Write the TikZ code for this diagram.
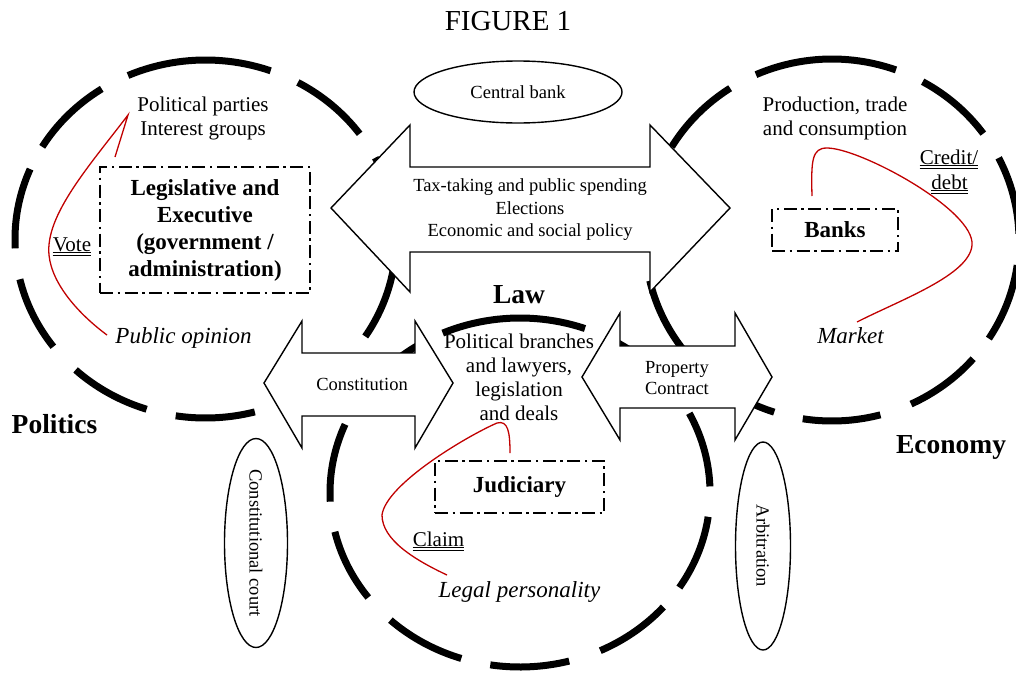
\documentclass[tikz,border=0pt]{standalone}
\usepackage{fontspec}
\setmainfont{Liberation Serif}
\usetikzlibrary{shapes.geometric,calc}
\definecolor{redline}{RGB}{192,0,0}
\newcommand\fsA{\fontsize{18.5}{22.5}\selectfont}
\newcommand\fsB{\fontsize{21}{24}\selectfont}
\newcommand\fsC{\fontsize{23}{27}\selectfont}
\newcommand\fsD{\fontsize{27.5}{30}\selectfont}
\tikzset{
  ring/.style={line width=7, line cap=butt},
  arrowshape/.style={draw, fill=white, line width=1.4, line join=miter},
  dbox/.style={draw, fill=white, line width=2.6, dash pattern=on 13 off 4.5 on 2.5 off 4.5, inner sep=0, align=center, font=\bfseries\fsC},
  oval/.style={draw, ellipse, fill=white, line width=1.4, inner sep=0, font=\fsA},
  loopline/.style={draw=redline, line width=1.3},
  ul/.style={line width=0.9},
  txt/.style={inner sep=0, align=center},
}
\begin{document}
\begin{tikzpicture}[x=1pt,y=-1pt]
\useasboundingbox (0,0) rectangle (1016,675);
% dashed rings: Politics, Economy, Law
\foreach \cx/\cy/\rx/\ry in {205.5/239/190.5/179, 832/240/187/181, 520/492.5/190/174.5}{
  \foreach \a/\b in {2/27,36/61,70/114,123/149,157/183,193/217,227/252,261/285,295/319,327/352}{
    \draw[ring] plot[domain=\a:\b, samples=24] ({\cx+\rx*cos(\x)},{\cy-\ry*sin(\x)});
  }
}
% double arrows
\draw[arrowshape] (331,208) -- (410,125) -- (410,167) -- (650,167) -- (650,125) -- (730,208) -- (650,292) -- (650,252) -- (410,252) -- (410,292) -- cycle;
\node[txt, font=\fsA] (policy) at (530,210) {Tax-taking and public spending\\Elections\\Economic and social policy};
\draw[arrowshape] (264,383) -- (302,321) -- (302,353) -- (415,353) -- (415,321) -- (453,383) -- (415,448) -- (415,416) -- (302,416) -- (302,448) -- cycle;
\node[txt, font=\fsA, anchor=base] (constitution) at (362,390) {Constitution};
\draw[arrowshape] (582,377) -- (620,313) -- (620,346) -- (735,346) -- (735,313) -- (772,377) -- (735,440) -- (735,408) -- (620,408) -- (620,440) -- cycle;
\node[txt, font={\fontsize{18.5}{21}\selectfont}] (property) at (677,378.5) {Property\\Contract};
% ovals
\node[oval, minimum width=208, minimum height=62] (cbank) at (518,92) {Central bank};
\node[oval, rotate=-90, minimum width=209, minimum height=63] (ccourt) at (256,543) {Constitutional court};
\node[oval, rotate=-90, minimum width=208, minimum height=55] (arb) at (763,546) {Arbitration};
% dash-dot boxes
\node[dbox, minimum width=210, minimum height=126] (legexec) at (205,230) {Legislative and\\Executive\\(government /\\administration)};
\node[dbox, minimum width=126, minimum height=42] (banks) at (835,230) {Banks};
\node[dbox, minimum width=169, minimum height=52] (judiciary) at (519.5,487) {Judiciary};
% texts
\node[txt, font={\fontsize{29}{32}\selectfont}, anchor=base] (title) at (508,30) {FIGURE 1};
\node[txt, font=\fsB] (parties) at (203,118) {Political parties\\Interest groups};
\node[txt, font=\itshape\fsC, anchor=base] (opinion) at (183.5,343) {Public opinion};
\node[txt, font=\fsB, anchor=base] (vote) at (72,251) {Vote};
\node[txt, font=\bfseries\fsD, anchor=base] (politics) at (54.5,433) {Politics};
\node[txt, font=\fsB] (production) at (835,118) {Production, trade\\and consumption};
\node[txt, font=\fsB, anchor=base] (credit) at (949,164) {Credit/};
\node[txt, font=\fsB, anchor=base] (debt) at (949.5,189) {debt};
\node[txt, font=\itshape\fsC, anchor=base] (market) at (850.5,343) {Market};
\node[txt, font=\bfseries\fsD, anchor=base] (economy) at (951,453) {Economy};
\node[txt, font=\bfseries\fsD, anchor=base] (law) at (519,303) {Law};
\node[txt, font=\fsB] (branches) at (519,377) {Political branches\\and lawyers,\\legislation\\and deals};
\node[txt, font=\fsB, anchor=base] (claim) at (438.5,546) {Claim};
\node[txt, font=\itshape\fsC, anchor=base] (legal) at (519.5,597) {Legal personality};
% double underlines
\foreach \n in {vote,claim,credit,debt}{
  \draw[ul] ($(\n.base west)+(0,1.5)$) -- ($(\n.base east)+(0,1.5)$);
  \draw[ul] ($(\n.base west)+(0,4.5)$) -- ($(\n.base east)+(0,4.5)$);
}
% red loops
\coordinate (polA) at (115,157);
\coordinate (polB) at (107,335);
\draw[loopline] (polA) -- (128,115) .. controls (90,165) and (45,215) .. (49,255) .. controls (52,285) and (80,315) .. (polB);
\coordinate (ecoA) at (812,196);
\coordinate (ecoB) at (857,322);
\draw[loopline] (ecoA) .. controls (811,160) and (812,148) .. (827,148) .. controls (860,148) and (975,210) .. (972,245) .. controls (970,275) and (900,300) .. (ecoB);
\coordinate (lawA) at (510,453);
\coordinate (lawB) at (447,575);
\draw[loopline] (lawA) .. controls (510,432) and (508,420) .. (497,423) .. controls (467,436) and (386,484) .. (382,515) .. controls (382,540) and (415,560) .. (lawB);
\end{tikzpicture}
\end{document}
